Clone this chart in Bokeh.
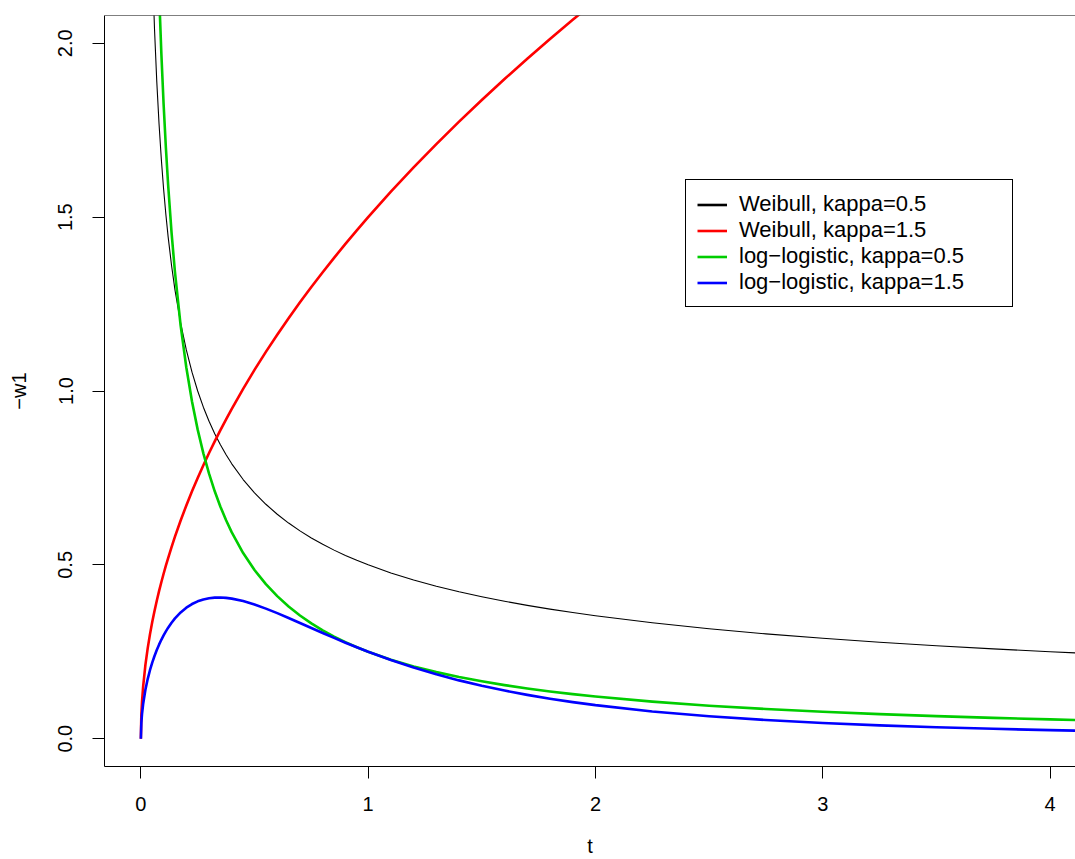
from bokeh.plotting import figure
from bokeh.models import (Legend, LegendItem, FixedTicker, Range1d, Span,
                          NumeralTickFormatter)
from bokeh.embed import file_html
from bokeh.resources import INLINE

# ---- data ----
t_black = [0.03, 0.04, 0.05, 0.06, 0.07, 0.08, 0.09, 0.1, 0.11, 0.12, 0.135, 0.15,
           0.175, 0.2, 0.225, 0.25, 0.275, 0.3, 0.325, 0.35, 0.375, 0.4, 0.45, 0.5,
           0.55, 0.6, 0.65, 0.7, 0.75, 0.8, 0.85, 0.9, 0.95, 1.0, 1.1, 1.2, 1.3,
           1.4, 1.5, 1.6, 1.7, 1.8, 1.9, 2.0, 2.25, 2.5, 2.75, 3.0, 3.25, 3.5,
           3.75, 4.0, 4.2]
weibull_05 = [2.8868, 2.5, 2.2361, 2.0412, 1.8898, 1.7678, 1.6667, 1.5811, 1.50756,
              1.4434, 1.36083, 1.2910, 1.19523, 1.1180, 1.05409, 1.0, 0.95346,
              0.91287, 0.87706, 0.84515, 0.81650, 0.79057, 0.74536, 0.70711,
              0.67420, 0.64550, 0.62017, 0.59761, 0.57735, 0.55902, 0.54233,
              0.52705, 0.51299, 0.5, 0.47673, 0.45644, 0.43853, 0.42258, 0.40825,
              0.39528, 0.38348, 0.37268, 0.36274, 0.35355, 0.33333, 0.31623,
              0.30151, 0.28868, 0.27735, 0.26726, 0.25820, 0.25, 0.24398]

t_red = [0, 0.002, 0.005, 0.01, 0.02, 0.03, 0.04, 0.05, 0.06, 0.07, 0.08, 0.09,
         0.1, 0.11, 0.12, 0.135, 0.15, 0.175, 0.2, 0.225, 0.25, 0.275, 0.3, 0.325,
         0.35, 0.375, 0.4, 0.45, 0.5, 0.55, 0.6, 0.65, 0.7, 0.75, 0.8, 0.85, 0.9,
         0.95, 1.0, 1.1, 1.2, 1.3, 1.4, 1.5, 1.6, 1.7, 1.8, 1.9, 2.0]
weibull_15 = [0, 0.06708, 0.10607, 0.15, 0.21213, 0.25981, 0.3, 0.33541, 0.36742,
              0.39686, 0.42426, 0.45, 0.47434, 0.49749, 0.51962, 0.55113, 0.58095,
              0.62750, 0.67082, 0.71151, 0.75, 0.78660, 0.82158, 0.85514, 0.88741,
              0.91856, 0.94868, 1.00623, 1.06066, 1.11243, 1.16190, 1.20935,
              1.25499, 1.29904, 1.34164, 1.38293, 1.42302, 1.46202, 1.5, 1.57322,
              1.64317, 1.71027, 1.77483, 1.83711, 1.89737, 1.95576, 2.01246,
              2.06760, 2.12132]

t_green = [0.05, 0.06, 0.07, 0.08, 0.09, 0.1, 0.11, 0.12, 0.135, 0.15, 0.175, 0.2,
           0.225, 0.25, 0.275, 0.3, 0.325, 0.35, 0.375, 0.4, 0.45, 0.5, 0.55, 0.6,
           0.65, 0.7, 0.75, 0.8, 0.85, 0.9, 0.95, 1.0, 1.1, 1.2, 1.3, 1.4, 1.5,
           1.6, 1.7, 1.8, 1.9, 2.0, 2.25, 2.5, 2.75, 3.0, 3.25, 3.5, 3.75, 4.0, 4.2]
loglogistic_05 = [2.9870, 2.6340, 2.3635, 2.1484, 1.9724, 1.8253, 1.70028, 1.5924,
                  1.45556, 1.3416, 1.18830, 1.0676, 0.96987, 0.88889, 0.82061,
                  0.76218, 0.71156, 0.66725, 0.62814, 0.59331, 0.53399, 0.48528,
                  0.44454, 0.40994, 0.38019, 0.35432, 0.33161, 0.31153, 0.29364,
                  0.27759, 0.26311, 0.25, 0.22714, 0.20790, 0.19148, 0.17731,
                  0.16497, 0.15411, 0.14450, 0.13593, 0.12825, 0.12132, 0.10667,
                  0.094931, 0.085334, 0.077350, 0.070612, 0.064856, 0.059886,
                  0.055556, 0.052475]

t_blue = [0, 0.002, 0.005, 0.01, 0.02, 0.03, 0.04, 0.05, 0.06, 0.07, 0.08, 0.09,
          0.1, 0.11, 0.12, 0.135, 0.15, 0.175, 0.2, 0.225, 0.25, 0.275, 0.3, 0.325,
          0.35, 0.375, 0.4, 0.45, 0.5, 0.55, 0.6, 0.65, 0.7, 0.75, 0.8, 0.85, 0.9,
          0.95, 1.0, 1.1, 1.2, 1.3, 1.4, 1.5, 1.6, 1.7, 1.8, 1.9, 2.0, 2.25, 2.5,
          2.75, 3.0, 3.25, 3.5, 3.75, 4.0, 4.2]
loglogistic_15 = [0, 0.04471, 0.07066, 0.0998, 0.14062, 0.17142, 0.19684, 0.21869,
                  0.23791, 0.25505, 0.27046, 0.28443, 0.29714, 0.30872, 0.31931,
                  0.33352, 0.34594, 0.36321, 0.37680, 0.38727, 0.39506, 0.40054,
                  0.40403, 0.40579, 0.40605, 0.40500, 0.40285, 0.39580, 0.38596,
                  0.37415, 0.36103, 0.34710, 0.33276, 0.31828, 0.30391, 0.28979,
                  0.27605, 0.26277, 0.25, 0.22612, 0.20449, 0.18505, 0.16767,
                  0.15216, 0.13834, 0.12602, 0.11505, 0.10525, 0.096488, 0.078367,
                  0.064456, 0.053636, 0.045114, 0.038319, 0.032839, 0.028370,
                  0.024691, 0.022203]

assert len(t_black) == len(weibull_05)
assert len(t_red) == len(weibull_15)
assert len(t_green) == len(loglogistic_05)
assert len(t_blue) == len(loglogistic_15)

x_ticks = [0, 1, 2, 3, 4]
y_ticks = [0.0, 0.5, 1.0, 1.5, 2.0]
labels = ["Weibull, kappa=0.5", "Weibull, kappa=1.5",
          "log\u2212logistic, kappa=0.5", "log\u2212logistic, kappa=1.5"]
colors = ["#000000", "#FF0000", "#00CD00", "#0000FF"]

FONT = "Liberation Sans"
X_MIN, X_MAX = -0.16, 4.112
Y_MIN, Y_MAX = -0.08, 2.08

p = figure(width=1075, height=859, output_backend="svg", toolbar_location=None,
           x_range=Range1d(X_MIN, X_MAX), y_range=Range1d(Y_MIN, Y_MAX),
           min_border_left=104, min_border_right=0, min_border_top=15,
           min_border_bottom=93)
p.outline_line_color = None
p.xgrid.visible = False
p.ygrid.visible = False
p.background_fill_color = "white"
p.border_fill_color = "white"

r_black = p.line(t_black, weibull_05, line_color=colors[0], line_width=1.1,
                 line_join="round")
r_red = p.line(t_red, weibull_15, line_color=colors[1], line_width=2.6,
               line_join="round")
r_green = p.line(t_green, loglogistic_05, line_color=colors[2], line_width=2.6,
                 line_join="round")
r_blue = p.line(t_blue, loglogistic_15, line_color=colors[3], line_width=2.6,
                line_join="round")
# thick black sample used only by the legend (no visible data)
nan = float("nan")
r_black_leg = p.line([nan], [nan], line_color=colors[0], line_width=2.6)

# top edge of the box
p.add_layout(Span(location=Y_MAX, dimension="width", line_color="black",
                  line_width=1))

for ax in (p.xaxis[0], p.yaxis[0]):
    ax.axis_line_color = "black"
    ax.axis_line_width = 1
    ax.major_tick_line_color = "black"
    ax.major_tick_out = 12
    ax.major_tick_in = 0
    ax.minor_tick_line_color = None
    ax.major_label_text_font = FONT
    ax.major_label_text_font_size = "20px"
    ax.major_label_text_color = "black"
    ax.axis_label_text_font = FONT
    ax.axis_label_text_font_size = "20px"
    ax.axis_label_text_font_style = "normal"
    ax.axis_label_text_color = "black"

p.xaxis.ticker = FixedTicker(ticks=x_ticks)
p.xaxis.formatter = NumeralTickFormatter(format="0")
p.xaxis.axis_label = "t"
p.xaxis.major_label_standoff = 18
p.xaxis.axis_label_standoff = 21

p.yaxis.ticker = FixedTicker(ticks=y_ticks)
p.yaxis.formatter = NumeralTickFormatter(format="0.0")
p.yaxis.major_label_orientation = "vertical"
p.yaxis.axis_label = "\u2212w1"
p.yaxis.major_label_standoff = 20
p.yaxis.axis_label_standoff = 26

legend = Legend(
    items=[LegendItem(label=labels[0], renderers=[r_black_leg]),
           LegendItem(label=labels[1], renderers=[r_red]),
           LegendItem(label=labels[2], renderers=[r_green]),
           LegendItem(label=labels[3], renderers=[r_blue])],
    location=(581, 459),
    border_line_color="black", border_line_width=1, border_line_alpha=1,
    background_fill_color="white", background_fill_alpha=1,
    padding=11, spacing=0, margin=0,
    glyph_width=30, glyph_height=25, label_height=25, label_width=262,
    label_standoff=12,
    label_text_font=FONT, label_text_font_size="22px", label_text_color="black",
)
p.add_layout(legend, "center")

open("out.html", "w").write(file_html(p, INLINE))
